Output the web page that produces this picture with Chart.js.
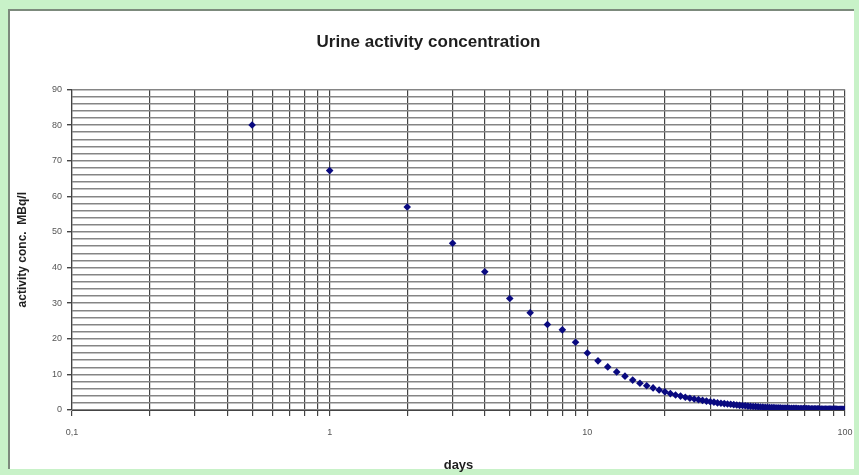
<!DOCTYPE html>
<html lang="en">
  <head>
    <meta charset="UTF-8" />
    <title>Urine activity concentration</title>
    <script src="https://cdn.jsdelivr.net/npm/chart.js@4.4.1/dist/chart.umd.min.js"></script>
    <style>
      body {
        margin: 0;
        background: #c8f2c8;
      }
      #frame {
        position: relative;
        width: 859px;
        height: 475px;
        background: #c8f2c8;
        overflow: hidden;
      }
      #inner {
        position: absolute;
        left: 8px;
        top: 9px;
        right: 5px;
        bottom: 6px;
        background: #fff;
        border-left: 2px solid #7c8a7c;
        border-top: 2px solid #7c8a7c;
      }
      #chart-wrapper {
        position: absolute;
        left: 0;
        top: 0;
        width: 859px;
        height: 475px;
      }
    </style>
  </head>

  <body>
    <div id="frame">
      <div id="inner"></div>
      <div id="chart-wrapper">
        <canvas id="urineChart"></canvas>
      </div>
    </div>

    <script>
      // ---- data ----
      const DAYS_EARLY = [0.5, 1, 2, 3, 4, 5, 6, 7, 8, 9, 10];
      const CONC_EARLY = [80, 67.2, 57, 46.8, 38.8, 31.3, 27.3, 24, 22.5, 19, 16];

      // daily samples from day 11 to day 100
      const DAYS_LATE = [
        11, 12, 13, 14, 15, 16, 17, 18, 19, 20,
        21, 22, 23, 24, 25, 26, 27, 28, 29, 30,
        31, 32, 33, 34, 35, 36, 37, 38, 39, 40,
        41, 42, 43, 44, 45, 46, 47, 48, 49, 50,
        51, 52, 53, 54, 55, 56, 57, 58, 59, 60,
        61, 62, 63, 64, 65, 66, 67, 68, 69, 70,
        71, 72, 73, 74, 75, 76, 77, 78, 79, 80,
        81, 82, 83, 84, 85, 86, 87, 88, 89, 90,
        91, 92, 93, 94, 95, 96, 97, 98, 99, 100,
      ];
      const CONC_LATE = [
        13.8, 12.1, 10.7, 9.5, 8.4, 7.5, 6.8, 6.2, 5.6, 5.1,
        4.6, 4.2, 3.9, 3.6, 3.3, 3.1, 2.9, 2.7, 2.5, 2.3,
        2.2, 2.0, 1.9, 1.8, 1.7, 1.6, 1.5, 1.4, 1.3, 1.25,
        1.2, 1.1, 1.05, 1.0, 0.95, 0.9, 0.85, 0.8, 0.78, 0.75,
        0.72, 0.7, 0.67, 0.65, 0.62, 0.6, 0.58, 0.56, 0.54, 0.52,
        0.5, 0.48, 0.47, 0.46, 0.45, 0.44, 0.43, 0.42, 0.41, 0.4,
        0.39, 0.38, 0.37, 0.36, 0.35, 0.34, 0.33, 0.32, 0.31, 0.3,
        0.3, 0.29, 0.29, 0.28, 0.28, 0.27, 0.27, 0.26, 0.26, 0.25,
        0.25, 0.24, 0.24, 0.23, 0.23, 0.22, 0.22, 0.21, 0.21, 0.2,
      ];

      // log x grid lines (0.1 .. 100) and which of them carry a label
      const X_TICKS = [
        0.1, 0.2, 0.3, 0.4, 0.5, 0.6, 0.7, 0.8, 0.9,
        1, 2, 3, 4, 5, 6, 7, 8, 9,
        10, 20, 30, 40, 50, 60, 70, 80, 90, 100,
      ];
      const X_LABEL_VALUES = [0.1, 1, 10, 100];
      const X_LABEL_TEXT = ["0,1", "1", "10", "100"];

      // y: grid every 2, label every 10
      const Y_MIN = 0;
      const Y_MAX = 90;
      const Y_GRID_STEP = 2;
      const Y_LABEL_STEP = 10;

      // ---- build points ----
      const days = DAYS_EARLY.concat(DAYS_LATE);
      const conc = CONC_EARLY.concat(CONC_LATE);
      const points = days.map((d, i) => ({ x: d, y: conc[i] }));

      const FONT = "'Liberation Sans', Arial, sans-serif";

      const xLabelFor = (v) => {
        const i = X_LABEL_VALUES.findIndex((t) => Math.abs(t - v) < 1e-9);
        return i >= 0 ? X_LABEL_TEXT[i] : "";
      };

      new Chart(document.getElementById("urineChart"), {
        type: "scatter",
        data: {
          datasets: [
            {
              label: "urine activity",
              data: points,
              backgroundColor: "#0a0a80",
              borderColor: "#0a0a80",
              pointStyle: "rectRot",
              pointRadius: 3.8,
              pointBorderWidth: 0,
            },
          ],
        },
        options: {
          responsive: true,
          maintainAspectRatio: false,
          animation: false,
          layout: { padding: { left: 12, right: 14, top: 0, bottom: 2 } },
          plugins: {
            legend: { display: false },
            tooltip: { enabled: false },
            title: {
              display: true,
              text: "Urine activity concentration",
              color: "#1e1e1e",
              font: { family: FONT, size: 17, weight: "bold", lineHeight: 1.2 },
              padding: { top: 32, bottom: 37 },
            },
          },
          scales: {
            x: {
              type: "logarithmic",
              min: 0.1,
              max: 100,
              afterBuildTicks: (scale) => {
                scale.ticks = X_TICKS.map((v) => ({ value: v }));
              },
              afterFit: (scale) => {
                scale.height = 63;
                scale.paddingLeft = 0;
                scale.paddingRight = 0;
              },
              ticks: {
                autoSkip: false,
                maxRotation: 0,
                padding: 11,
                color: "#555",
                font: { family: FONT, size: 9 },
                callback: (value) => xLabelFor(value),
              },
              grid: {
                color: "#444",
                lineWidth: 1.2,
                tickLength: 6,
                tickColor: "#444",
              },
              border: { color: "#444", width: 1 },
              title: {
                display: true,
                text: "days",
                color: "#1e1e1e",
                font: { family: FONT, size: 13, weight: "bold" },
                padding: { top: 0, bottom: 0 },
              },
            },
            y: {
              type: "linear",
              min: Y_MIN,
              max: Y_MAX,
              afterFit: (scale) => {
                scale.width = 60;
              },
              ticks: {
                stepSize: Y_GRID_STEP,
                autoSkip: false,
                padding: 5,
                color: "#555",
                font: { family: FONT, size: 9 },
                callback: (value) => (value % Y_LABEL_STEP === 0 ? value : ""),
              },
              grid: {
                color: "#858585",
                lineWidth: 1.4,
                tickLength: 5,
                tickColor: (ctx) =>
                  ctx.tick && ctx.tick.value % Y_LABEL_STEP === 0
                    ? "#444"
                    : "rgba(0,0,0,0)",
              },
              border: { color: "#444", width: 1.2 },
              title: {
                display: true,
                text: "activity conc.  MBq/l",
                color: "#1e1e1e",
                font: { family: FONT, size: 12, weight: "bold" },
                padding: { top: 3, bottom: 0 },
              },
            },
          },
        },
      });
    </script>
  </body>
</html>
